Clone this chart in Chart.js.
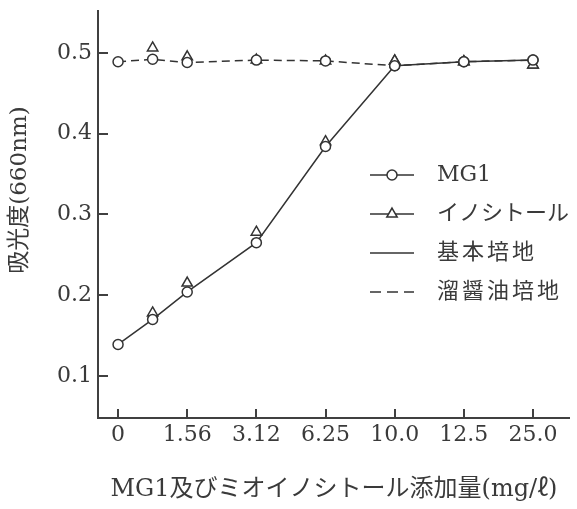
<!DOCTYPE html>
<html>
<head>
<meta charset="utf-8">
<script src="https://cdn.jsdelivr.net/npm/chart.js@4"></script>
<style>
html,body{margin:0;padding:0;background:#fff;}
#wrap{position:relative;width:577px;height:509px;}
</style>
</head>
<body>
<div id="wrap"><canvas id="c" width="577" height="509"></canvas></div>
<script>
// ---- data ----
const doses = [0, 0.78, 1.56, 3.12, 6.25, 10.0, 12.5, 25.0];          // mg/ℓ
const xTickLabels = ['0', '1.56', '3.12', '6.25', '10.0', '12.5', '25.0'];
const yTickValues = [0.1, 0.2, 0.3, 0.4, 0.5];
// 基本培地 (basic medium)
const basicMG1      = [0.139, 0.170, 0.204, 0.265, 0.384, 0.484, 0.489, 0.491];
const basicInositol = [null,  0.178, 0.215, 0.278, 0.390, 0.490, 0.489, 0.485];
// 溜醤油培地 (tamari soy sauce medium)
const soyMG1        = [0.489, 0.492, 0.488, 0.491, 0.490, 0.484, 0.489, 0.491];
const soyInositol   = [null,  0.506, 0.495, 0.491, 0.490, 0.490, 0.489, 0.485];
const legendItems = ['MG1', 'イノシトール', '基本培地', '溜醤油培地'];
const yTitle = '吸光度(660nm)';
const xTitle = 'MG1及びミオイノシトール添加量(mg/ℓ)';

// ---- helpers ----
const FONT = '"DejaVu Serif", "Noto Sans CJK JP", serif';
const INK = '#3a3a3a';
const AXIS = '#404040';
const tickVals = xTickLabels.map(parseFloat);
// the printed x axis is ordinal between its labelled ticks: piecewise-linear between them
function slotOf(d) {
  for (let i = 0; i < tickVals.length - 1; i++) {
    if (d >= tickVals[i] && d <= tickVals[i + 1]) {
      return i + (d - tickVals[i]) / (tickVals[i + 1] - tickVals[i]);
    }
  }
  return tickVals.length - 1;
}
const pts = arr => doses.map((d, i) => ({ x: slotOf(d), y: arr[i] }));

// axis lines + inward tick marks, all placed from the library's own scales
const axisDecor = {
  id: 'axisDecor',
  afterDraw(chart) {
    const ctx = chart.ctx;
    const xs = chart.scales.x, ys = chart.scales.y;
    const ax = Math.round(xs.left);     // x-scale start = y-axis position
    const ay = Math.round(ys.bottom);   // y-scale bottom = x-axis position
    ctx.save();
    ctx.fillStyle = AXIS;
    // axis lines
    ctx.fillRect(ax - 1, Math.round(ys.top), 2, ay - Math.round(ys.top) + 1);
    ctx.fillRect(ax - 1, ay - 1, Math.round(xs.right) - ax + 1, 2);
    // inward ticks
    yTickValues.forEach(v => {
      const py = Math.round(ys.getPixelForValue(v));
      ctx.fillRect(ax, py - 1, 10, 2);
    });
    xTickLabels.forEach((_, i) => {
      const px = Math.round(xs.getPixelForValue(i));
      ctx.fillRect(px - 1, ay - 9, 2, 9);
    });
    // y-axis title
    ctx.fillStyle = INK;
    ctx.font = '23px ' + FONT;
    ctx.textAlign = 'center';
    ctx.textBaseline = 'middle';
    ctx.translate(20, 190);
    ctx.rotate(-Math.PI / 2);
    ctx.fillText(yTitle, 0, 0);
    ctx.restore();
  }
};

const customLegend = {
  id: 'customLegend',
  afterDraw(chart) {
    const ctx = chart.ctx;
    const x0 = 370, x1 = 414, xm = 392, tx = 437;
    const rows = [175, 214, 253, 292];
    ctx.save();
    ctx.strokeStyle = '#333';
    ctx.fillStyle = INK;
    ctx.lineWidth = 1.5;
    ctx.font = '22px ' + FONT;
    ctx.textAlign = 'left';
    ctx.textBaseline = 'middle';
    legendItems.forEach((label, i) => {
      const yy = rows[i];
      ctx.setLineDash(i === 3 ? [11, 6] : []);
      ctx.beginPath(); ctx.moveTo(x0, yy); ctx.lineTo(x1, yy); ctx.stroke();
      ctx.setLineDash([]);
      if (i === 0) {
        ctx.save(); ctx.fillStyle = '#fff';
        ctx.beginPath(); ctx.arc(xm, yy, 5, 0, Math.PI * 2); ctx.fill(); ctx.stroke();
        ctx.restore();
      } else if (i === 1) {
        ctx.save(); ctx.fillStyle = '#fff';
        const r = 6;
        ctx.beginPath();
        ctx.moveTo(xm, yy - r);
        ctx.lineTo(xm + r * 0.866, yy + r * 0.5);
        ctx.lineTo(xm - r * 0.866, yy + r * 0.5);
        ctx.closePath(); ctx.fill(); ctx.stroke();
        ctx.restore();
      }
      ctx.letterSpacing = i >= 2 ? '3px' : '0px';
      ctx.fillText(label, tx, yy);
    });
    ctx.restore();
  }
};

const marker = (style, r) => ({
  showLine: false,
  pointStyle: style,
  pointRadius: r,
  pointBorderWidth: 1.5,
  pointBorderColor: '#333',
  pointBackgroundColor: '#fff'
});

new Chart(document.getElementById('c'), {
  type: 'scatter',
  data: {
    datasets: [
      Object.assign({ label: 'MG1 基本培地', data: pts(basicMG1), order: 1 }, marker('circle', 5)),
      Object.assign({ label: 'イノシトール 基本培地', data: pts(basicInositol), order: 2 }, marker('triangle', 6)),
      Object.assign({ label: 'MG1 溜醤油培地', data: pts(soyMG1), order: 3 }, marker('circle', 5)),
      Object.assign({ label: 'イノシトール 溜醤油培地', data: pts(soyInositol), order: 4 }, marker('triangle', 6)),
      { label: '基本培地', data: pts(basicMG1), showLine: true, pointRadius: 0,
        borderColor: '#333', borderWidth: 1.5, order: 5 },
      { label: '溜醤油培地', data: pts(soyMG1), showLine: true, pointRadius: 0,
        borderColor: '#333', borderWidth: 1.5, borderDash: [8, 5], order: 6 }
    ]
  },
  options: {
    responsive: false,
    devicePixelRatio: 1,
    animation: false,
    layout: { padding: { top: 10, right: 7, left: 0, bottom: 0 }, autoPadding: false },
    plugins: { legend: { display: false }, tooltip: { enabled: false } },
    scales: {
      x: {
        type: 'linear',
        min: -0.29, max: 6.535,
        afterBuildTicks: s => { s.ticks = xTickLabels.map((_, i) => ({ value: i })); },
        afterFit: s => { s.height = 91; s.paddingLeft = 0; s.paddingRight = 0; },
        grid: { display: false, drawTicks: false },
        border: { display: false },
        ticks: {
          callback: v => xTickLabels[v] !== undefined ? xTickLabels[v] : '',
          font: { family: FONT, size: 22 }, color: INK, padding: 4,
          maxRotation: 0, autoSkip: false
        },
        title: {
          display: true, text: xTitle, color: INK,
          font: { family: FONT, size: 24 }, padding: { top: 0, bottom: 5 }
        }
      },
      y: {
        type: 'linear',
        min: 0.048, max: 0.553,
        afterBuildTicks: s => { s.ticks = yTickValues.map(v => ({ value: v })); },
        afterFit: s => { s.width = 98; s.paddingTop = 0; s.paddingBottom = 0; },
        grid: { display: false, drawTicks: false },
        border: { display: false },
        ticks: {
          callback: v => v.toFixed(1),
          font: { family: FONT, size: 22 }, color: INK, padding: 6
        }
      }
    }
  },
  plugins: [axisDecor, customLegend]
});
</script>
</body>
</html>
